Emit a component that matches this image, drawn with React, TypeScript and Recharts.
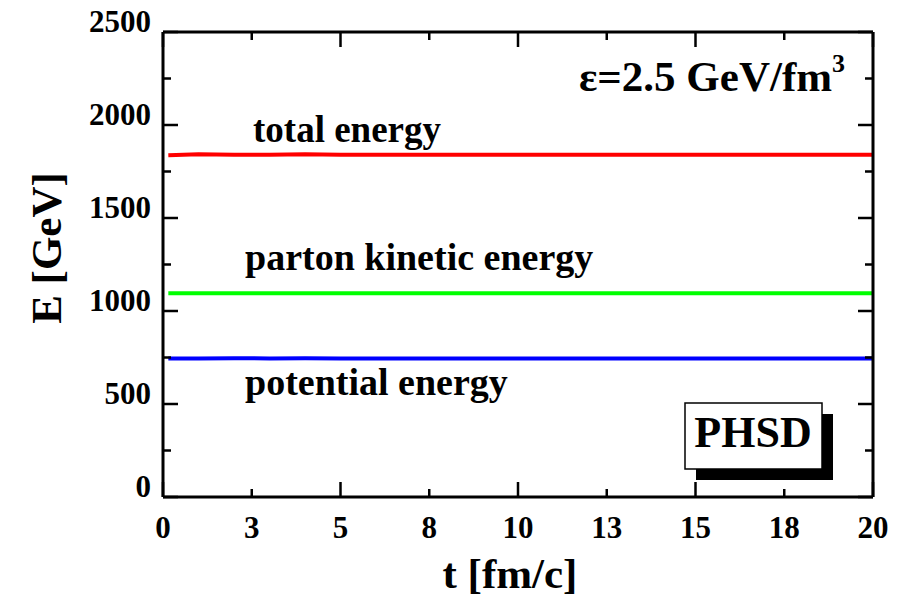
import React from "react";
import { LineChart, Line, XAxis, YAxis } from "recharts";

const times = [0.15, 1, 2, 3, 4, 5, 7.5, 10, 12.5, 15, 17.5, 20];
const totalEnergy = [1838, 1843, 1840, 1840, 1843, 1840, 1840, 1840, 1840, 1840, 1840, 1840];
const partonKineticEnergy = [1095, 1095, 1095, 1095, 1095, 1095, 1095, 1095, 1095, 1095, 1095, 1095];
const potentialEnergy = [745, 745, 746, 745, 746, 745, 745, 745, 745, 745, 745, 745];

const xTicks = [0, 2.5, 5, 7.5, 10, 12.5, 15, 17.5, 20];
const xTickLabels = ["0", "3", "5", "8", "10", "13", "15", "18", "20"];
const yTicks = [0, 250, 500, 750, 1000, 1250, 1500, 1750, 2000, 2250, 2500];
const yTickLabels: Record<number, string> = { 0: "0", 500: "500", 1000: "1000", 1500: "1500", 2000: "2000", 2500: "2500" };

const data = times.map((t, i) => ({
  t,
  total: totalEnergy[i],
  kinetic: partonKineticEnergy[i],
  potential: potentialEnergy[i],
}));

const FONT = "'Liberation Serif', 'Times New Roman', serif";
const MAJOR = 15;
const MINOR = 8;

const BottomTick = (props: any) => {
  const { x, y, payload } = props;
  const v = payload.value;
  const major = v % 5 === 0;
  const idx = xTicks.indexOf(v);
  return (
    <g>
      <line x1={x} y1={y} x2={x} y2={y - (major ? MAJOR : MINOR)} stroke="#000" strokeWidth={2.5} />
      <text x={x} y={y + 41} textAnchor="middle" fontFamily={FONT} fontWeight="bold" fontSize={31} fill="#000">
        {xTickLabels[idx]}
      </text>
    </g>
  );
};

const TopTick = (props: any) => {
  const { x, y, payload } = props;
  const major = payload.value % 5 === 0;
  return <line x1={x} y1={y} x2={x} y2={y + (major ? MAJOR : MINOR)} stroke="#000" strokeWidth={2.5} />;
};

const LeftTick = (props: any) => {
  const { x, y, payload } = props;
  const v = payload.value;
  const major = v % 500 === 0;
  return (
    <g>
      <line x1={x} y1={y} x2={x + (major ? MAJOR : MINOR)} y2={y} stroke="#000" strokeWidth={2.5} />
      {major && (
        <text x={x - 12} y={y} textAnchor="end" fontFamily={FONT} fontWeight="bold" fontSize={31} fill="#000">
          {yTickLabels[v]}
        </text>
      )}
    </g>
  );
};

const RightTick = (props: any) => {
  const { x, y, payload } = props;
  const major = payload.value % 500 === 0;
  return <line x1={x} y1={y} x2={x - (major ? MAJOR : MINOR)} y2={y} stroke="#000" strokeWidth={2.5} />;
};

const axisLine = { stroke: "#000", strokeWidth: 3 };

export default function App() {
  return (
    <div style={{ position: "absolute", left: 0, top: 0, width: 903, height: 596, background: "#fff" }}>
      <LineChart width={903} height={596} data={data} margin={{ top: 31, right: 29, bottom: 0, left: 0 }}>
        <XAxis
          xAxisId="b"
          dataKey="t"
          type="number"
          domain={[0, 20]}
          ticks={xTicks}
          interval={0}
          orientation="bottom"
          height={99}
          tickSize={0}
          tickMargin={0}
          tickLine={false}
          axisLine={axisLine}
          tick={<BottomTick />}
          allowDataOverflow
        />
        <XAxis
          xAxisId="t"
          dataKey="t"
          type="number"
          domain={[0, 20]}
          ticks={xTicks}
          interval={0}
          orientation="top"
          height={1}
          tickSize={0}
          tickMargin={0}
          tickLine={false}
          axisLine={axisLine}
          tick={<TopTick />}
          allowDataOverflow
        />
        <YAxis
          yAxisId="l"
          type="number"
          domain={[0, 2500]}
          ticks={yTicks}
          interval={0}
          orientation="left"
          width={163}
          tickSize={0}
          tickMargin={0}
          tickLine={false}
          axisLine={axisLine}
          tick={<LeftTick />}
          allowDataOverflow
        />
        <YAxis
          yAxisId="r"
          type="number"
          domain={[0, 2500]}
          ticks={yTicks}
          interval={0}
          orientation="right"
          width={1}
          tickSize={0}
          tickMargin={0}
          tickLine={false}
          axisLine={axisLine}
          tick={<RightTick />}
          allowDataOverflow
        />
        <Line xAxisId="b" yAxisId="l" dataKey="total" stroke="#ff0000" strokeWidth={4} dot={false} isAnimationActive={false} type="linear" />
        <Line xAxisId="b" yAxisId="l" dataKey="kinetic" stroke="#00ff00" strokeWidth={4} dot={false} isAnimationActive={false} type="linear" />
        <Line xAxisId="b" yAxisId="l" dataKey="potential" stroke="#0000ff" strokeWidth={4} dot={false} isAnimationActive={false} type="linear" />
      </LineChart>
      <svg width={903} height={596} style={{ position: "absolute", left: 0, top: 0, pointerEvents: "none" }}>
        <g fontFamily={FONT} fontWeight="bold" fill="#000">
          <text x={253} y={142} fontSize={37}>total energy</text>
          <text x={245} y={270} fontSize={38}>parton kinetic energy</text>
          <text x={245} y={395} fontSize={38}>potential energy</text>
          <text x={579} y={91} fontSize={43}>
            ε=2.5 GeV/fm<tspan fontSize={26} dy={-19}>3</tspan>
          </text>
          <rect x={696} y={414} width={137} height={66} fill="#000" />
          <rect x={685} y={403} width={137} height={66} fill="#fff" stroke="#000" strokeWidth={1.5} />
          <text x={753} y={447} fontSize={44} textAnchor="middle">PHSD</text>
          <text x={510} y={588} fontSize={43} textAnchor="middle">t [fm/c]</text>
          <text transform="translate(61,248) rotate(-90)" fontSize={43} textAnchor="middle">E [GeV]</text>
        </g>
      </svg>
    </div>
  );
}
